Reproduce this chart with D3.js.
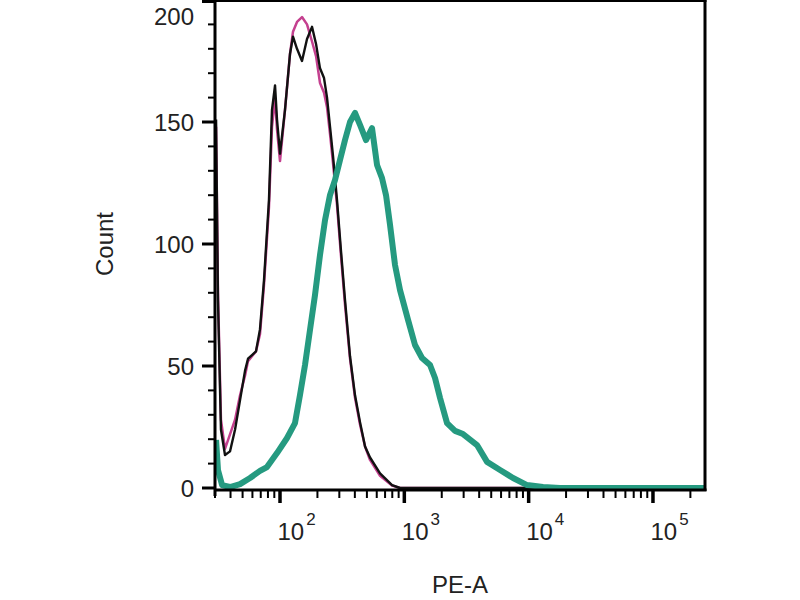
<!DOCTYPE html>
<html>
<head>
<meta charset="utf-8">
<script src="https://cdn.jsdelivr.net/npm/d3@7/dist/d3.min.js"></script>
<style>
  html, body { margin: 0; padding: 0; background: #fff; }
  svg { display: block; font-family: "Liberation Sans", Arial, sans-serif; }
</style>
</head>
<body>
<svg id="chart" width="800" height="600"></svg>
<script>
// ---- Data (PE-A intensity, Count) ----
const blackX = [30.6, 31.7, 33.5, 36.1, 39.6, 43.5, 47.7, 52.3, 55.3, 59.5, 64.1, 69.0, 74.3, 81.5, 86.2, 91.2, 94.6, 100, 109.7, 120.4, 127.2, 137.0, 150.3, 164.9, 180.9, 194.9, 209.8, 226.0, 238.9, 252.6, 267.0, 287.4, 309.6, 333.4, 365.7, 401.2, 440.1, 483.1, 529.8, 637.6, 796.5, 923.5, 262144];
const blackY = [151, 77, 24, 13.5, 15, 24, 36, 48, 53, 54.5, 56, 65, 85, 118, 155, 165, 151, 137, 155, 178, 185, 180, 175, 184, 189, 182, 172, 168, 160, 148, 136, 118, 97, 77, 54, 38, 27, 17, 12.5, 6, 1.2, 0, 0];

const pinkX = [30.6, 31.7, 33.5, 36.1, 39.6, 43.5, 47.7, 52.3, 55.3, 59.5, 64.1, 69.0, 74.3, 81.5, 86.2, 91.2, 94.6, 100, 109.7, 120.4, 127.2, 137.0, 150.3, 164.9, 180.9, 194.9, 209.8, 226.0, 238.9, 252.6, 267.0, 287.4, 309.6, 333.4, 365.7, 401.2, 440.1, 483.1, 529.8, 637.6, 796.5, 923.5, 262144];
const pinkY = [148, 80, 28, 16, 22, 28, 38, 46, 52, 54, 56, 63, 83, 115, 148, 160, 147, 134, 155, 178, 187, 191, 193, 190, 183, 177, 166, 162, 156, 145, 133, 116, 95, 75, 53, 37, 26, 17, 11.5, 5, 1, 0, 0];

const tealX = [30.6, 31.7, 34.2, 39.6, 47.7, 57.4, 69.0, 78.6, 94.6, 113.9, 132.0, 144.8, 158.9, 174.3, 191.2, 209.8, 230.2, 252.6, 277.0, 303.8, 333.4, 365.7, 401.2, 440.1, 491.9, 549.8, 603.2, 661.6, 712.6, 767.4, 841.7, 923.5, 1071, 1219, 1388, 1610, 1766, 1938, 2206, 2558, 2967, 3844, 4629, 5888, 7491, 9710, 13055, 17885, 262144];
const tealY = [19.7, 7.4, 1.2, 0.4, 1.6, 4.1, 7, 8.6, 14.3, 20.5, 26.6, 38.1, 50.4, 64.8, 79.1, 95.5, 109.8, 120.1, 126.2, 134.4, 142.6, 150, 153.7, 148.8, 142.6, 147.5, 132.4, 127, 120, 107.8, 91.4, 81.1, 68.9, 58.6, 53.3, 50.4, 45.1, 36.9, 26.6, 23.4, 22.1, 17.6, 10.7, 7.4, 4.1, 1.2, 0.4, 0, 0];

const xDomain = [30, 262144];
const yDomain = [0, 200];
const xMajorTicks = [100, 1000, 10000, 100000];
const xTickExponents = ["2", "3", "4", "5"];
const yMajorTicks = [0, 50, 100, 150, 200];
const xLabel = "PE-A";
const yLabel = "Count";

(function () {
  // ---- Layout ----
  const svg = d3.select("#chart");
  const pl = 215, pr = 705, pt = 0, pb = 488;

  const x = d3.scaleLog().domain(xDomain).range([pl, pr]);
  const y = d3.scaleLinear().domain(yDomain).range([pb, pt]);

  svg.append("defs").append("clipPath").attr("id", "plotClip")
    .append("rect").attr("x", pl).attr("y", pt - 2).attr("width", pr - pl).attr("height", pb - pt + 4);

  const toPts = (xs, ys) => xs.map((v, i) => [v, ys[i]]);
  const line = d3.line().x(d => x(d[0])).y(d => y(d[1]));

  const g = svg.append("g").attr("clip-path", "url(#plotClip)");
  g.append("path").datum(toPts(pinkX, pinkY)).attr("d", line)
    .attr("fill", "none").attr("stroke", "#c4408f").attr("stroke-width", 2.5).attr("stroke-linejoin", "round");
  g.append("path").datum(toPts(blackX, blackY)).attr("d", line)
    .attr("fill", "none").attr("stroke", "#111").attr("stroke-width", 2.4).attr("stroke-linejoin", "round");
  g.append("path").datum(toPts(tealX, tealY)).attr("d", line)
    .attr("fill", "none").attr("stroke", "#259a80").attr("stroke-width", 6).attr("stroke-linejoin", "round");

  // ---- Frame ----
  svg.append("line").attr("x1", pl).attr("x2", pr + 1.5).attr("y1", 1).attr("y2", 1)
    .attr("stroke", "#000").attr("stroke-width", 2);
  svg.append("line").attr("x1", pr).attr("x2", pr).attr("y1", 0).attr("y2", pb + 3)
    .attr("stroke", "#000").attr("stroke-width", 3);

  // ---- Y axis ----
  const yAxis = svg.append("g").attr("transform", `translate(${pl},0)`);
  yAxis.append("line").attr("x1", 0).attr("x2", 0).attr("y1", 0).attr("y2", pb + 8)
    .attr("stroke", "#000").attr("stroke-width", 3);
  const yMinor = d3.range(0, 201, 10).filter(v => v % 50 !== 0);
  yAxis.selectAll(".ymin").data(yMinor).join("line")
    .attr("x1", -7).attr("x2", 0).attr("y1", d => y(d)).attr("y2", d => y(d))
    .attr("stroke", "#000").attr("stroke-width", 2);
  yAxis.selectAll(".ymaj").data(yMajorTicks).join("line")
    .attr("x1", -13).attr("x2", 0).attr("y1", d => Math.max(y(d), 1.5)).attr("y2", d => Math.max(y(d), 1.5))
    .attr("stroke", "#000").attr("stroke-width", 3);
  yAxis.selectAll(".ylab").data(yMajorTicks).join("text")
    .attr("x", -21).attr("y", d => Math.max(y(d), 16))
    .attr("text-anchor", "end").attr("dominant-baseline", "central")
    .attr("font-size", 24).attr("fill", "#222").text(d => d);

  // ---- X axis ----
  const xAxis = svg.append("g").attr("transform", `translate(0,${pb + 2})`);
  xAxis.append("line").attr("x1", pl).attr("x2", pr + 1.5).attr("y1", 0).attr("y2", 0)
    .attr("stroke", "#000").attr("stroke-width", 3);
  const xMinor = [];
  for (let e = 1; e <= 5; e++) {
    for (let m = 2; m <= 9; m++) {
      const v = m * Math.pow(10, e);
      if (v >= xDomain[0] && v <= xDomain[1]) xMinor.push(v);
    }
  }
  xAxis.selectAll(".xmin").data(xMinor).join("line")
    .attr("x1", d => x(d)).attr("x2", d => x(d)).attr("y1", 0).attr("y2", 8)
    .attr("stroke", "#000").attr("stroke-width", 2);
  xAxis.selectAll(".xmaj").data(xMajorTicks).join("line")
    .attr("x1", d => x(d)).attr("x2", d => x(d)).attr("y1", 0).attr("y2", 13)
    .attr("stroke", "#000").attr("stroke-width", 3.5);
  const xl = xAxis.selectAll(".xlab").data(xMajorTicks).join("text")
    .attr("x", d => x(d) - 2.5).attr("y", 50)
    .attr("text-anchor", "start").attr("font-size", 24).attr("fill", "#222");
  xl.append("tspan").text("10");
  xl.append("tspan").attr("dy", -15).attr("dx", 2).attr("font-size", 17).text((d, i) => xTickExponents[i]);

  // ---- Axis titles ----
  svg.append("text").attr("x", (pl + pr) / 2).attr("y", 593)
    .attr("text-anchor", "middle").attr("font-size", 24).attr("fill", "#222").text(xLabel);
  svg.append("text").attr("transform", `translate(113,${(pt + pb) / 2}) rotate(-90)`)
    .attr("text-anchor", "middle").attr("font-size", 24).attr("fill", "#222").text(yLabel);
})();
</script>
</body>
</html>
